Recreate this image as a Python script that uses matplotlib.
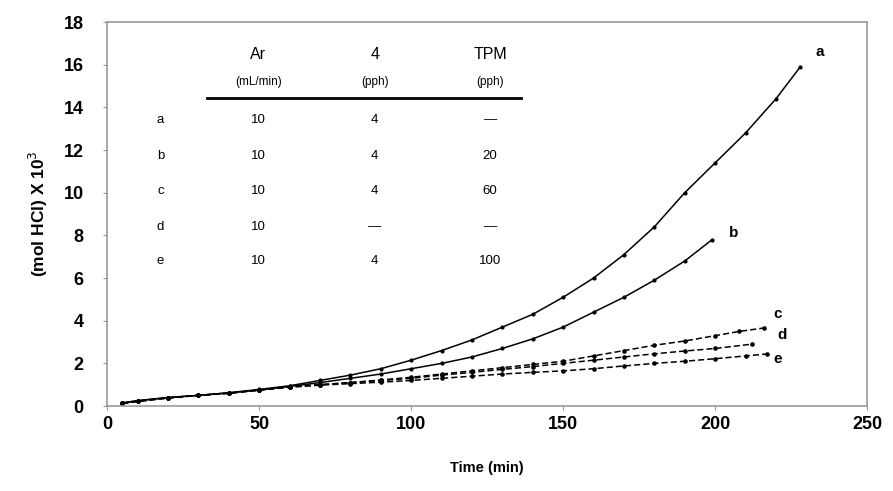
import matplotlib.pyplot as plt
import matplotlib as mpl

mpl.rcParams['font.family'] = ['Liberation Sans', 'DejaVu Sans']

# data: time (min) and (mol HCl) x 10^3
a_t = [5, 10, 20, 30, 40, 50, 60, 70, 80, 90, 100, 110, 120, 130, 140, 150, 160, 170, 180, 190, 200, 210, 220, 228]
a_y = [0.15, 0.25, 0.4, 0.5, 0.62, 0.78, 0.95, 1.2, 1.45, 1.75, 2.15, 2.6, 3.1, 3.7, 4.3, 5.1, 6.0, 7.1, 8.4, 10.0, 11.4, 12.8, 14.4, 15.9]
b_t = [5, 10, 20, 30, 40, 50, 60, 70, 80, 90, 100, 110, 120, 130, 140, 150, 160, 170, 180, 190, 199]
b_y = [0.15, 0.25, 0.4, 0.5, 0.62, 0.75, 0.92, 1.1, 1.3, 1.5, 1.75, 2.0, 2.3, 2.7, 3.15, 3.7, 4.4, 5.1, 5.9, 6.8, 7.8]
c_t = [5, 10, 20, 30, 40, 50, 60, 70, 80, 90, 100, 110, 120, 130, 140, 150, 160, 170, 180, 190, 200, 208, 216]
c_y = [0.12, 0.22, 0.38, 0.5, 0.6, 0.75, 0.9, 1.0, 1.1, 1.22, 1.35, 1.5, 1.65, 1.8, 1.95, 2.1, 2.35, 2.6, 2.85, 3.05, 3.3, 3.5, 3.66]
d_t = [5, 10, 20, 30, 40, 50, 60, 70, 80, 90, 100, 110, 120, 130, 140, 150, 160, 170, 180, 190, 200, 212]
d_y = [0.12, 0.22, 0.38, 0.5, 0.6, 0.75, 0.9, 1.0, 1.1, 1.2, 1.3, 1.45, 1.58, 1.72, 1.85, 2.0, 2.15, 2.3, 2.45, 2.58, 2.7, 2.9]
e_t = [5, 10, 20, 30, 40, 50, 60, 70, 80, 90, 100, 110, 120, 130, 140, 150, 160, 170, 180, 190, 200, 210, 217]
e_y = [0.12, 0.22, 0.38, 0.5, 0.6, 0.75, 0.88, 0.98, 1.05, 1.12, 1.2, 1.3, 1.4, 1.5, 1.58, 1.65, 1.75, 1.88, 2.0, 2.1, 2.22, 2.35, 2.44]

# inset table
row_names = ['a', 'b', 'c', 'd', 'e']
ar_flow = ['10', '10', '10', '10', '10']
cmpd4 = ['4', '4', '4', '\u2014', '4']
tpm = ['\u2014', '20', '60', '\u2014', '100']

fig = plt.figure(figsize=(8.93, 4.91), dpi=100)
ax = fig.add_axes([0.12, 0.173, 0.851, 0.782])

ax.plot(a_t, a_y, '-', color='k', lw=1.1, marker='o', ms=2)
ax.plot(b_t, b_y, '-', color='k', lw=1.1, marker='o', ms=2)
ax.plot(c_t, c_y, color='k', lw=1.1, ls=(0, (4, 2)), marker='o', ms=2.3)
ax.plot(d_t, d_y, color='k', lw=1.1, ls=(0, (4, 2)), marker='o', ms=2.3)
ax.plot(e_t, e_y, color='k', lw=1.1, ls=(0, (4, 2)), marker='o', ms=2.3)

# curve labels
ax.text(234.5, 16.6, 'a', fontsize=11, fontweight='bold', ha='center', va='center')
ax.text(206, 8.1, 'b', fontsize=11, fontweight='bold', ha='center', va='center')
ax.text(220.5, 4.3, 'c', fontsize=11, fontweight='bold', ha='center', va='center')
ax.text(222, 3.35, 'd', fontsize=11, fontweight='bold', ha='center', va='center')
ax.text(220.5, 2.2, 'e', fontsize=11, fontweight='bold', ha='center', va='center')

# table
col_x = [49.7, 88, 126]
ax.text(col_x[0], 16.5, 'Ar', fontsize=11.5, ha='center', va='center')
ax.text(col_x[1], 16.5, '4', fontsize=11.5, ha='center', va='center')
ax.text(col_x[2], 16.5, 'TPM', fontsize=11.5, ha='center', va='center')
ax.text(col_x[0], 15.2, '(mL/min)', fontsize=8.5, ha='center', va='center')
ax.text(col_x[1], 15.2, '(pph)', fontsize=8.5, ha='center', va='center')
ax.text(col_x[2], 15.2, '(pph)', fontsize=8.5, ha='center', va='center')
ax.plot([33, 136], [14.45, 14.45], color='k', lw=2)
row_y = [13.4, 11.7, 10.1, 8.4, 6.8]
for i in range(len(row_names)):
    ax.text(17.5, row_y[i], row_names[i], fontsize=9.5, ha='center', va='center')
    ax.text(col_x[0], row_y[i], ar_flow[i], fontsize=9.5, ha='center', va='center')
    ax.text(col_x[1], row_y[i], cmpd4[i], fontsize=9.5, ha='center', va='center')
    ax.text(col_x[2], row_y[i], tpm[i], fontsize=9.5, ha='center', va='center')

ax.set_xlim(0, 250)
ax.set_ylim(0, 18)
ax.set_xticks(range(0, 251, 50))
ax.set_yticks(range(0, 19, 2))
for lbl in ax.get_xticklabels() + ax.get_yticklabels():
    lbl.set_fontweight('bold')
    lbl.set_fontsize(13)
ax.tick_params(direction='out', length=3, color='0.6')
ax.tick_params(axis='x', pad=4)
ax.tick_params(axis='y', pad=14)
for s in ax.spines.values():
    s.set_color('0.6')
    s.set_linewidth(1.2)

ax.set_xlabel('Time (min)', fontsize=10.5, fontweight='bold', labelpad=20)
ax.set_ylabel('(mol HCl) X 10$^3$', fontsize=12.5, fontweight='bold', labelpad=10)

fig.savefig('out.png', dpi=100)
